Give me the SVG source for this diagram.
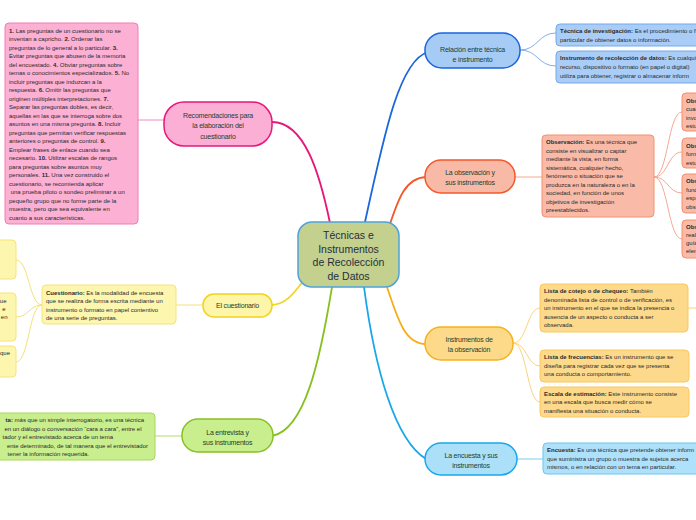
<svg xmlns="http://www.w3.org/2000/svg" width="696" height="520" viewBox="0 0 696 520">
<style>
text{font-family:"Liberation Sans",Arial,sans-serif}
.t{font-size:6px;fill:#2a2a2a}
.b{font-weight:bold}
.n{font-size:7px;fill:#1f3d2b;text-anchor:middle;letter-spacing:-0.2px}
.c{font-size:10.5px;fill:#1f2f3d;text-anchor:middle}
.bx{stroke-width:1}
.ln{fill:none;stroke-width:1.8}
.lt{fill:none;stroke-width:1}
</style>
<rect width="696" height="520" fill="#ffffff"/>
<g id="connectors">
<path class="ln" stroke="#e8177b" d="M330,223 C320,175 305,122 272,122"/>
<path class="ln" stroke="#1a66dd" d="M365,222 C385,130 400,60 428,52"/>
<path class="ln" stroke="#f2582a" d="M390,224 C398,200 405,178 426,177"/>
<path class="ln" stroke="#f7ad1a" d="M387,287 C398,320 405,344 426,344"/>
<path class="ln" stroke="#18a7ea" d="M364,287 C375,370 395,440 426,459"/>
<path class="ln" stroke="#88c023" d="M332,287 C320,360 305,430 272,436"/>
<path class="ln" stroke="#f0d52a" d="M304,280 C292,296 285,304 272,305"/>
<path class="lt" stroke="#f48cbd" d="M138,120 L164,120"/>
<path class="lt" stroke="#7fb0ea" d="M520,50 C538,50 538,33 556,33 M520,50 C538,50 538,66 556,66"/>
<path class="lt" stroke="#f7a891" d="M515,177 L542,177"/>
<path class="lt" stroke="#f7a891" d="M654,177 C668,177 668,112 682,112 M654,177 C668,177 668,152 682,152 M654,177 C668,177 668,193 682,193 M654,177 C668,177 668,239 682,239"/>
<path class="lt" stroke="#fbd37e" d="M513,343 C527,343 527,308 540,308 M513,343 C527,343 527,366 540,366 M513,343 C527,343 527,402 540,402 M688,308 L700,308"/>
<path class="lt" stroke="#7dccf2" d="M517,459 L543,459"/>
<path class="lt" stroke="#b2dc6a" d="M155,436 L182,436"/>
<path class="lt" stroke="#f5e07a" d="M176,305 L203,305 M42,305 C29,305 29,260 16,260 M42,305 C29,305 29,317 16,317 M42,305 C29,305 29,362 16,362"/>
</g>
<g id="central">
<rect x="298" y="222" width="101" height="65" rx="14" fill="#c4d08d" stroke="#4ea2da" stroke-width="1.5"/>
<text class="c" x="348.5" y="239">Técnicas e</text>
<text class="c" x="348.5" y="252.5">Instrumentos</text>
<text class="c" x="348.5" y="266">de Recolección</text>
<text class="c" x="348.5" y="279.5">de Datos</text>
</g>
<g id="recomendaciones">
<rect x="164" y="102" width="108" height="44" rx="20" fill="#fbafd4" stroke="#e8177b" stroke-width="1.5"/>
<text class="n" x="218" y="117.5">Recomendaciones para</text>
<text class="n" x="218" y="128">la elaboración del</text>
<text class="n" x="218" y="138.5">cuestionario</text>
</g>
<g id="recomendaciones-texto">
<rect class="bx" x="5" y="23" width="133" height="201" rx="4" fill="#fbb0d4" stroke="#f27cb5"/>
<text class="t" x="9" y="32.7"><tspan class="b">1.</tspan> Las preguntas de un cuestionario no se</text>
<text class="t" x="9" y="41.2">inventan a capricho. <tspan class="b">2.</tspan> Ordenar las</text>
<text class="t" x="9" y="49.7">preguntas de lo general a lo particular. <tspan class="b">3.</tspan></text>
<text class="t" x="9" y="58.2">Evitar preguntas que abusen de la memoria</text>
<text class="t" x="9" y="66.7">del encuestado. <tspan class="b">4.</tspan> Obviar preguntas sobre</text>
<text class="t" x="9" y="75.2">temas o conocimientos especializados. <tspan class="b">5.</tspan> No</text>
<text class="t" x="9" y="83.7">incluir preguntas que induzcan a la</text>
<text class="t" x="9" y="92.2">respuesta. <tspan class="b">6.</tspan> Omitir las preguntas que</text>
<text class="t" x="9" y="100.7">originen múltiples interpretaciones. <tspan class="b">7.</tspan></text>
<text class="t" x="9" y="109.2">Separar las preguntas dobles, es decir,</text>
<text class="t" x="9" y="117.7">aquellas en las que se interroga sobre dos</text>
<text class="t" x="9" y="126.2">asuntos en una misma pregunta. <tspan class="b">8.</tspan> Incluir</text>
<text class="t" x="9" y="134.7">preguntas que permitan verificar respuestas</text>
<text class="t" x="9" y="143.2">anteriores o preguntas de control. <tspan class="b">9.</tspan></text>
<text class="t" x="9" y="151.7">Emplear frases de enlace cuando sea</text>
<text class="t" x="9" y="160.2">necesario. <tspan class="b">10.</tspan> Utilizar escalas de rangos</text>
<text class="t" x="9" y="168.7">para preguntas sobre asuntos muy</text>
<text class="t" x="9" y="177.2">personales. <tspan class="b">11.</tspan> Una vez construido el</text>
<text class="t" x="9" y="185.7">cuestionario, se recomienda aplicar</text>
<text class="t" x="9" y="194.2" xml:space="preserve"> una prueba piloto o sondeo preliminar a un</text>
<text class="t" x="9" y="202.7">pequeño grupo que no forme parte de la</text>
<text class="t" x="9" y="211.2">muestra, pero que sea equivalente en</text>
<text class="t" x="9" y="219.7">cuanto a sus características.</text>
</g>
<g id="relacion">
<rect x="425" y="33" width="95" height="35" rx="17" fill="#a6cbf5" stroke="#1a66dd" stroke-width="1.5"/>
<text class="n" x="472.5" y="51.5">Relación entre técnica</text>
<text class="n" x="472.5" y="61.5">e instrumento</text>
</g>
<g id="tecnica-investigacion">
<rect class="bx" x="556" y="24" width="160" height="22" rx="4" fill="#a9cdf6" stroke="#74a9eb"/>
<text class="t" x="560" y="32.7"><tspan class="b">Técnica de investigación:</tspan> Es el procedimiento o f</text>
<text class="t" x="560" y="42">particular de obtener datos o información.</text>
</g>
<g id="instrumento-recoleccion">
<rect class="bx" x="556" y="51" width="160" height="32" rx="4" fill="#a9cdf6" stroke="#74a9eb"/>
<text class="t" x="560" y="60"><tspan class="b">Instrumento de recolección de datos:</tspan> Es cualqui</text>
<text class="t" x="560" y="69">recurso, dispositivo o formato (en papel o digital)</text>
<text class="t" x="560" y="78">utiliza para obtener, registrar o almacenar inform</text>
</g>
<g id="observacion-nodo">
<rect x="425" y="160" width="90" height="33" rx="16" fill="#f8b9a6" stroke="#f2582a" stroke-width="1.5"/>
<text class="n" x="470" y="174.5">La observación y</text>
<text class="n" x="470" y="184.5">sus instrumentos</text>
</g>
<g id="observacion">
<rect class="bx" x="542" y="135" width="112" height="82" rx="4" fill="#f9bba8" stroke="#f3906f"/>
<text class="t" x="546" y="144"><tspan class="b">Observación:</tspan> Es una técnica que</text>
<text class="t" x="546" y="152.5">consiste en visualizar o captar</text>
<text class="t" x="546" y="161">mediante la vista, en forma</text>
<text class="t" x="546" y="169.5">sistemática, cualquier hecho,</text>
<text class="t" x="546" y="178">fenómeno o situación que se</text>
<text class="t" x="546" y="186.5">produzca en la naturaleza o en la</text>
<text class="t" x="546" y="195">sociedad, en función de unos</text>
<text class="t" x="546" y="203.5">objetivos de investigación</text>
<text class="t" x="546" y="212">preestablecidos.</text>
</g>
<g id="obs-a">
<rect class="bx" x="682" y="93" width="40" height="38" rx="4" fill="#f9bba8" stroke="#f3906f"/>
<text class="t" x="686" y="103"><tspan class="b">Obs</tspan></text>
<text class="t" x="686" y="111">cuan</text>
<text class="t" x="686" y="119.5">invo</text>
<text class="t" x="686" y="128">estu</text>
</g>
<g id="obs-b">
<rect class="bx" x="682" y="138" width="40" height="30" rx="4" fill="#f9bba8" stroke="#f3906f"/>
<text class="t" x="686" y="148"><tspan class="b">Obs</tspan></text>
<text class="t" x="686" y="156">form</text>
<text class="t" x="686" y="164.5">estu</text>
</g>
<g id="obs-c">
<rect class="bx" x="682" y="174" width="40" height="39" rx="4" fill="#f9bba8" stroke="#f3906f"/>
<text class="t" x="686" y="183"><tspan class="b">Obs</tspan></text>
<text class="t" x="686" y="191.5">func</text>
<text class="t" x="686" y="200">espe</text>
<text class="t" x="686" y="208.5">obse</text>
</g>
<g id="obs-d">
<rect class="bx" x="682" y="220" width="40" height="38" rx="4" fill="#f9bba8" stroke="#f3906f"/>
<text class="t" x="686" y="229"><tspan class="b">Obs</tspan></text>
<text class="t" x="686" y="237">real</text>
<text class="t" x="686" y="245">guía</text>
<text class="t" x="686" y="253">elem</text>
</g>
<g id="instrumentos-observacion">
<rect x="425" y="327" width="88" height="33" rx="16" fill="#fdd98a" stroke="#f5b21b" stroke-width="1.5"/>
<text class="n" x="469" y="341.5">Instrumentos de</text>
<text class="n" x="469" y="352">la observación</text>
</g>
<g id="lista-cotejo">
<rect class="bx" x="540" y="284" width="148" height="48" rx="4" fill="#fdd98b" stroke="#fbc95a"/>
<text class="t" x="544" y="293"><tspan class="b">Lista de cotejo o de chequeo:</tspan> También</text>
<text class="t" x="544" y="301.5">denominada lista de control o de verificación, es</text>
<text class="t" x="544" y="310">un instrumento en el que se indica la presencia o</text>
<text class="t" x="544" y="318.5">ausencia de un aspecto o conducta a ser</text>
<text class="t" x="544" y="327">observada.</text>
</g>
<g id="lista-frecuencias">
<rect class="bx" x="540" y="350" width="149" height="32" rx="4" fill="#fdd98b" stroke="#fbc95a"/>
<text class="t" x="544" y="359"><tspan class="b">Lista de frecuencias:</tspan> Es un instrumento que se</text>
<text class="t" x="544" y="367.5">diseña para registrar cada vez que se presenta</text>
<text class="t" x="544" y="376">una conducta o comportamiento.</text>
</g>
<g id="escala-estimacion">
<rect class="bx" x="540" y="387" width="149" height="30" rx="4" fill="#fdd98b" stroke="#fbc95a"/>
<text class="t" x="544" y="395.5"><tspan class="b">Escala de estimación:</tspan> Este instrumento consiste</text>
<text class="t" x="544" y="404">en una escala que busca medir cómo se</text>
<text class="t" x="544" y="412.5">manifiesta una situación o conducta.</text>
</g>
<g id="encuesta-nodo">
<rect x="425" y="443" width="92" height="32" rx="16" fill="#ace0f9" stroke="#18a7ea" stroke-width="1.5"/>
<text class="n" x="471" y="457.5">La encuesta y sus</text>
<text class="n" x="471" y="467.5">instrumentos</text>
</g>
<g id="encuesta">
<rect class="bx" x="543" y="443" width="170" height="31" rx="4" fill="#afe1fa" stroke="#6cc5f0"/>
<text class="t" x="547" y="452"><tspan class="b">Encuesta:</tspan> Es una técnica que pretende obtener inform</text>
<text class="t" x="547" y="460.5">que suministra un grupo o muestra de sujetos acerca</text>
<text class="t" x="547" y="469">mismos, o en relación con un tema en particular.</text>
</g>
<g id="entrevista-nodo">
<rect x="182" y="419" width="91" height="33" rx="16" fill="#c9ee8e" stroke="#88c023" stroke-width="1.5"/>
<text class="n" x="227.5" y="434.5">La entrevista y</text>
<text class="n" x="227.5" y="445">sus instrumentos</text>
</g>
<g id="entrevista">
<rect class="bx" x="-20" y="413" width="175" height="47" rx="4" fill="#c9ee8e" stroke="#a6d65a"/>
<text class="t" x="144" y="422" text-anchor="end"><tspan class="b">ta:</tspan> más que un simple interrogatorio, es una técnica</text>
<text class="t" x="141.5" y="430.5" text-anchor="end">en un diálogo o conversación “cara a cara”, entre el</text>
<text class="t" x="113" y="439" text-anchor="end">tador y el entrevistado acerca de un tema</text>
<text class="t" x="148" y="447.5" text-anchor="end">ente determinado, de tal manera que el entrevistador</text>
<text class="t" x="89" y="456" text-anchor="end">tener la información requerida.</text>
</g>
<g id="cuestionario-nodo">
<rect x="203" y="294" width="69" height="23" rx="11" fill="#fdf5a8" stroke="#f0d21f" stroke-width="1.5"/>
<text class="n" x="237.5" y="308">El cuestionario</text>
</g>
<g id="cuestionario">
<rect class="bx" x="42" y="285" width="134" height="39" rx="4" fill="#fdf6ae" stroke="#f6e37a"/>
<text class="t" x="46" y="295"><tspan class="b">Cuestionario:</tspan> Es la modalidad de encuesta</text>
<text class="t" x="46" y="303.3">que se realiza de forma escrita mediante un</text>
<text class="t" x="46" y="311.6">instrumento o formato en papel contentivo</text>
<text class="t" x="46" y="320">de una serie de preguntas.</text>
</g>
<g id="cuest-a">
<rect class="bx" x="-20" y="240" width="36" height="39" rx="4" fill="#fdf6ae" stroke="#f6e37a"/>
</g>
<g id="cuest-b">
<rect class="bx" x="-20" y="293" width="36" height="48" rx="4" fill="#fdf6ae" stroke="#f6e37a"/>
<text class="t" x="6.5" y="303" text-anchor="end">ue</text>
<text class="t" x="5.5" y="311" text-anchor="end">e</text>
<text class="t" x="7.5" y="319" text-anchor="end">en</text>
</g>
<g id="cuest-c">
<rect class="bx" x="-20" y="346" width="36" height="31" rx="4" fill="#fdf6ae" stroke="#f6e37a"/>
<text class="t" x="10" y="355" text-anchor="end">que</text>
</g>
</svg>
